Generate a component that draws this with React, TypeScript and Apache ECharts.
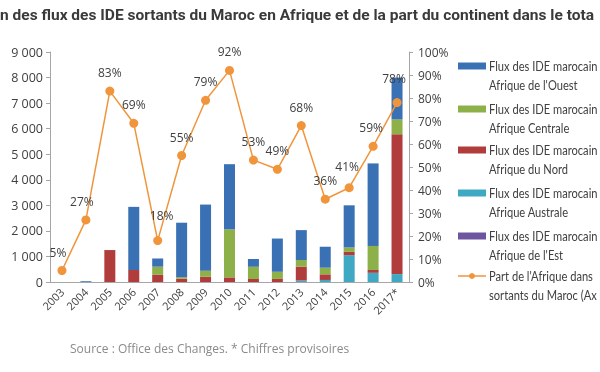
import React, { useEffect, useRef } from "react";
import * as echarts from "echarts";

const years = ["2003", "2004", "2005", "2006", "2007", "2008", "2009", "2010", "2011", "2012", "2013", "2014", "2015", "2016", "2017*"];
const ouest = [0, 30, 0, 2470, 320, 2130, 2590, 2550, 300, 1300, 1170, 820, 1650, 3230, 1640];
const centrale = [0, 0, 0, 0, 320, 60, 230, 1880, 480, 280, 260, 260, 170, 940, 580];
const nord = [0, 0, 1250, 470, 280, 130, 210, 180, 120, 120, 540, 220, 130, 110, 5470];
const australe = [0, 0, 0, 0, 0, 0, 0, 0, 0, 0, 60, 80, 1050, 360, 310];
const est = [0, 0, 0, 0, 0, 0, 0, 0, 0, 0, 0, 0, 0, 0, 0];
const partAfrique = [5, 27, 83, 69, 18, 55, 79, 92, 53, 49, 68, 36, 41, 59, 78];
const leftTicks = ["0", "1 000", "2 000", "3 000", "4 000", "5 000", "6 000", "7 000", "8 000", "9 000"];

const names = [
  "Flux des IDE marocains en Afrique de l'Ouest",
  "Flux des IDE marocains en Afrique Centrale",
  "Flux des IDE marocains en Afrique du Nord",
  "Flux des IDE marocains en Afrique Australe",
  "Flux des IDE marocains en Afrique de l'Est",
  "Part de l'Afrique dans les flux des IDE sortants du Maroc (Axe de droite)",
];
const legendLines = [
  ["Flux des IDE marocain", "Afrique de l'Ouest"],
  ["Flux des IDE marocain", "Afrique Centrale"],
  ["Flux des IDE marocain", "Afrique du Nord"],
  ["Flux des IDE marocain", "Afrique Australe"],
  ["Flux des IDE marocain", "Afrique de l'Est"],
  ["Part de l'Afrique dans", "sortants du Maroc (Ax"],
];
const titleText = "n des flux des IDE sortants du Maroc en Afrique et de la part du continent dans le tota";
const sourceText = "Source : Office des Changes. * Chiffres provisoires";

const C_BLUE = "#3a70b4";
const C_GREEN = "#8db048";
const C_RED = "#b03c3c";
const C_TEAL = "#3fa8c2";
const C_PURPLE = "#6e55a0";
const C_ORANGE = "#f0953c";
const colors = [C_BLUE, C_GREEN, C_RED, C_TEAL, C_PURPLE, C_ORANGE];

const labelOffsets: Record<number, [number, number]> = {
  0: [-4, 0],
  1: [-4, 0],
  4: [4, -7],
  12: [-2, -3],
  13: [-2, 0],
  14: [-3, -6],
};

export default function App() {
  const ref = useRef<HTMLDivElement>(null);
  useEffect(() => {
    document.body.style.margin = "0";
    if (!ref.current) return;
    const chart = echarts.init(ref.current, null, { renderer: "svg" });
    const font = "'Open Sans', sans-serif";
    const legendFont = "Lato, sans-serif";
    const axisLabelColor = "#404040";
    const barW = 11;
    const legendGraphics: any[] = [];
    const legendTop = [66, 109, 150, 193, 236, 276];
    legendLines.forEach((lines, i) => {
      const y = legendTop[i];
      if (i < 5) {
        legendGraphics.push({
          type: "rect",
          shape: { x: 458, y: y - 3.5, width: 28, height: 7 },
          style: { fill: colors[i] },
        });
      } else {
        legendGraphics.push({
          type: "line",
          shape: { x1: 458, y1: y, x2: 486, y2: y },
          style: { stroke: C_ORANGE, lineWidth: 1.5 },
        });
        legendGraphics.push({
          type: "circle",
          shape: { cx: 472, cy: y, r: 3 },
          style: { fill: C_ORANGE },
        });
      }
      lines.forEach((t, j) => {
        legendGraphics.push({
          type: "text",
          x: 489,
          y: y + j * 19.5,
          scaleX: 0.89,
          style: {
            text: t,
            fill: "#404040",
            font: `12.5px ${legendFont}`,
            textVerticalAlign: "middle",
          },
        });
      });
    });

    const barSeries = [
      { name: names[3], data: australe, color: C_TEAL },
      { name: names[4], data: est, color: C_PURPLE },
      { name: names[2], data: nord, color: C_RED },
      { name: names[1], data: centrale, color: C_GREEN },
      { name: names[0], data: ouest, color: C_BLUE },
    ].map((s) => ({
      type: "bar",
      name: s.name,
      stack: "flux",
      barWidth: barW,
      data: s.data,
      itemStyle: { color: s.color },
      z: 2,
    }));

    chart.setOption({
      animation: false,
      textStyle: { fontFamily: font },
      grid: { left: 50, right: 191, top: 52, bottom: 90 },
      xAxis: {
        type: "category",
        data: years,
        boundaryGap: true,
        axisLine: { lineStyle: { color: "#a6a6a6" } },
        axisTick: { alignWithLabel: false, length: 4, lineStyle: { color: "#a6a6a6" } },
        axisLabel: { rotate: 45, color: axisLabelColor, fontSize: 11, margin: 8, interval: 0 },
      },
      yAxis: [
        {
          type: "value",
          min: 0,
          max: 9000,
          interval: 1000,
          splitLine: { show: false },
          axisLine: { show: true, lineStyle: { color: "#a6a6a6" } },
          axisTick: { show: true, length: 4, lineStyle: { color: "#a6a6a6" } },
          axisLabel: {
            color: axisLabelColor,
            fontSize: 12.5,
            margin: 7,
            formatter: (v: number) => leftTicks[Math.round(v / 1000)],
          },
        },
        {
          type: "value",
          min: 0,
          max: 100,
          interval: 10,
          position: "right",
          splitLine: { show: false },
          axisLine: { show: true, lineStyle: { color: "#a6a6a6" } },
          axisTick: { show: true, length: 4, lineStyle: { color: "#a6a6a6" } },
          axisLabel: { color: axisLabelColor, fontSize: 12, margin: 9, formatter: "{value}%" },
        },
      ],
      series: [
        ...barSeries,
        {
          type: "line",
          name: names[5],
          yAxisIndex: 1,
          data: partAfrique.map((v, i) => {
            const off = labelOffsets[i];
            return off ? { value: v, label: { offset: off } } : v;
          }),
          symbol: "circle",
          symbolSize: 9,
          lineStyle: { color: C_ORANGE, width: 1.5 },
          itemStyle: { color: C_ORANGE },
          z: 5,
          label: {
            show: true,
            position: "top",
            distance: 8,
            formatter: "{c}%",
            color: "#404040",
            fontSize: 12,
          },
        },
      ],
      graphic: [
        {
          type: "text",
          x: 0,
          y: 15,
          style: {
            text: titleText,
            fill: "#3a3a3a",
            font: "bold 15.5px Roboto, sans-serif",
            textVerticalAlign: "middle",
          },
        },
        ...legendGraphics,
        {
          type: "text",
          x: 70,
          y: 348,
          style: {
            text: sourceText,
            fill: "#8a8a8a",
            font: `12px ${font}`,
            textVerticalAlign: "middle",
          },
        },
      ],
    });
    return () => chart.dispose();
  }, []);
  return <div ref={ref} style={{ width: 600, height: 372, position: "fixed", left: 0, top: 0 }} />;
}
